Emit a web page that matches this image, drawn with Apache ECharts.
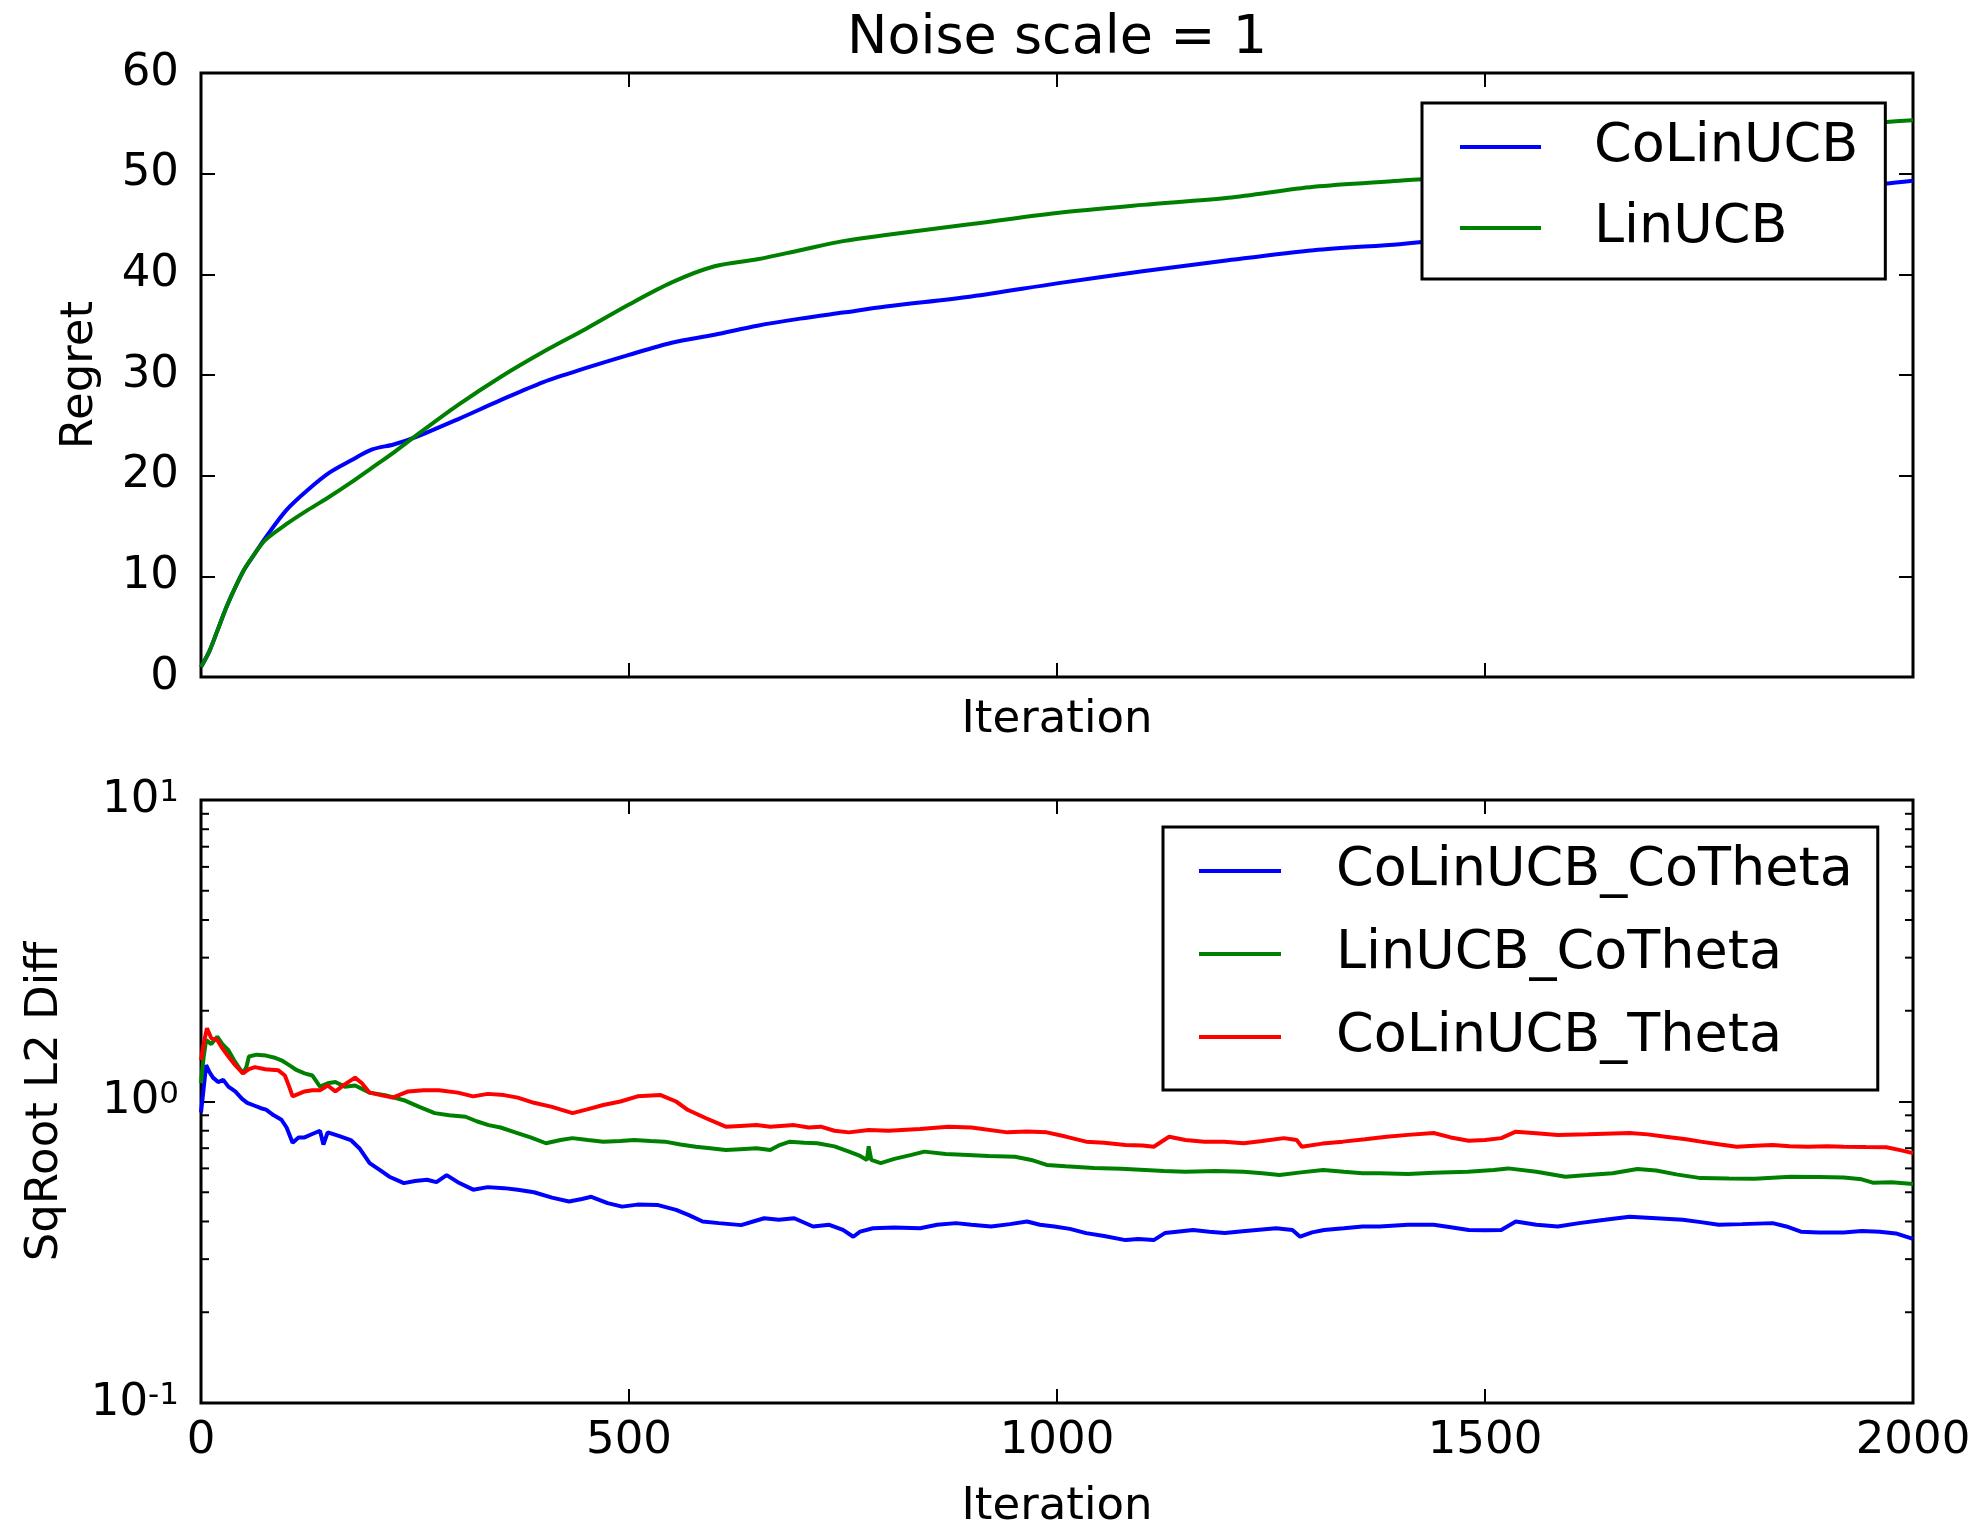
<!DOCTYPE html>
<html>
<head>
<meta charset="utf-8">
<script src="https://cdn.jsdelivr.net/npm/echarts@6/dist/echarts.min.js"></script>
<style>
html,body{margin:0;padding:0;background:#fff;}
#chart{width:1973px;height:1529px;}
</style>
</head>
<body>
<div id="chart"></div>
<script>
// ---------- Top panel: Regret ----------
const topIter = [0,10,20,30,40,50,60,75,100,125,150,175,200,225,250,300,350,400,450,500,550,600,650,700,750,800,900,1000,1100,1200,1300,1400,1450,1500,1600,1700,1800,1900,1967,2000];
const regretCoLinUCB = [1.0,2.6,4.8,7.0,8.9,10.6,11.9,13.8,16.6,18.6,20.3,21.5,22.6,23.1,23.8,25.6,27.5,29.3,30.7,32.0,33.2,34.0,34.9,35.6,36.2,36.8,37.8,39.1,40.3,41.4,42.4,43.0,43.4,43.9,45.0,46.1,47.1,48.2,49.0,49.3];
const regretLinUCB   = [1.0,2.6,4.8,7.0,8.9,10.6,11.9,13.6,15.2,16.6,17.9,19.3,20.8,22.3,23.9,27.0,29.8,32.3,34.6,37.0,39.2,40.8,41.5,42.4,43.3,43.9,45.0,46.1,46.9,47.6,48.7,49.3,49.6,50.1,51.2,52.3,53.3,54.4,55.1,55.3];

// ---------- Bottom panel: SqRoot L2 Diff ----------
const iterCoLinCo = [0,3,6,10,14,20,26,32,40,48,54,62,70,76,85,94,100,107,114,121,130,139,143,148,160,175,185,197,210,220,237,250,264,275,287,300,318,335,354,370,389,410,430,445,456,475,492,510,533,555,570,586,605,631,645,658,675,693,715,734,750,762,770,785,810,840,860,882,900,923,945,965,980,997,1015,1034,1055,1080,1095,1113,1126,1140,1159,1178,1196,1220,1256,1275,1284,1298,1312,1335,1357,1377,1410,1440,1460,1481,1500,1519,1536,1560,1585,1610,1640,1669,1700,1731,1752,1773,1800,1836,1852,1869,1890,1919,1940,1961,1980,2000];
const diffCoLinCo = [0.92,1.1,1.32,1.25,1.2,1.16,1.18,1.12,1.08,1.02,0.99,0.97,0.95,0.94,0.9,0.87,0.82,0.73,0.76,0.76,0.78,0.8,0.72,0.79,0.77,0.745,0.7,0.625,0.59,0.563,0.536,0.545,0.55,0.54,0.57,0.54,0.51,0.52,0.516,0.51,0.5,0.48,0.466,0.475,0.483,0.46,0.448,0.455,0.454,0.437,0.42,0.4,0.395,0.389,0.4,0.41,0.405,0.41,0.385,0.39,0.375,0.356,0.37,0.38,0.382,0.38,0.39,0.395,0.39,0.385,0.392,0.4,0.39,0.385,0.378,0.366,0.358,0.347,0.35,0.347,0.366,0.37,0.375,0.37,0.366,0.372,0.38,0.375,0.356,0.368,0.375,0.38,0.385,0.385,0.39,0.39,0.383,0.375,0.374,0.375,0.4,0.39,0.385,0.395,0.405,0.415,0.41,0.405,0.398,0.39,0.392,0.395,0.385,0.37,0.368,0.368,0.372,0.37,0.365,0.35];

const iterLinCo = [0,3,6,12,19,25,32,40,49,53,56,65,76,85,94,103,112,121,130,139,148,157,168,180,197,215,237,255,273,290,309,322,336,350,367,385,403,420,434,452,470,490,506,525,542,560,578,595,613,630,649,665,675,688,705,720,740,757,770,778,780,783,794,810,830,845,870,896,920,951,970,988,1010,1043,1075,1103,1125,1150,1185,1218,1240,1260,1285,1311,1335,1357,1377,1410,1440,1480,1510,1527,1560,1594,1620,1649,1678,1700,1725,1752,1785,1815,1857,1890,1919,1940,1953,1975,2000];
const diffLinCo = [1.15,1.4,1.6,1.55,1.64,1.55,1.48,1.35,1.24,1.3,1.41,1.43,1.42,1.4,1.37,1.32,1.27,1.24,1.22,1.12,1.15,1.16,1.12,1.13,1.07,1.05,1.01,0.96,0.915,0.9,0.89,0.86,0.835,0.82,0.79,0.76,0.727,0.745,0.756,0.745,0.736,0.74,0.745,0.74,0.736,0.72,0.708,0.7,0.69,0.695,0.7,0.69,0.715,0.736,0.73,0.727,0.71,0.682,0.66,0.64,0.71,0.64,0.625,0.645,0.665,0.682,0.67,0.665,0.66,0.656,0.64,0.616,0.61,0.602,0.598,0.593,0.588,0.585,0.588,0.585,0.578,0.57,0.582,0.593,0.585,0.578,0.578,0.575,0.58,0.585,0.593,0.6,0.585,0.563,0.57,0.578,0.597,0.59,0.572,0.557,0.555,0.554,0.563,0.562,0.56,0.552,0.538,0.54,0.533];

const iterCoLinTh = [0,3,7,12,19,25,32,40,49,56,63,75,90,98,103,107,114,121,130,139,148,157,168,180,188,197,210,224,242,260,278,300,318,335,354,370,389,410,434,450,470,490,510,537,555,569,590,613,630,649,665,693,710,724,740,757,780,803,840,873,900,942,965,988,1010,1034,1055,1080,1100,1113,1131,1150,1172,1195,1218,1240,1265,1280,1286,1310,1334,1360,1385,1410,1440,1460,1481,1500,1519,1536,1560,1585,1620,1669,1690,1711,1735,1752,1775,1794,1815,1836,1856,1877,1900,1919,1945,1969,1985,2000];
const diffCoLinTh = [1.37,1.55,1.75,1.62,1.6,1.5,1.41,1.32,1.24,1.28,1.3,1.28,1.27,1.22,1.12,1.04,1.06,1.08,1.09,1.09,1.13,1.08,1.14,1.2,1.15,1.07,1.05,1.03,1.08,1.09,1.09,1.07,1.04,1.06,1.05,1.03,0.99,0.96,0.915,0.94,0.974,1.0,1.04,1.05,1.0,0.937,0.88,0.825,0.83,0.835,0.825,0.835,0.82,0.825,0.8,0.79,0.805,0.8,0.81,0.825,0.82,0.79,0.795,0.79,0.765,0.736,0.73,0.717,0.715,0.708,0.764,0.745,0.736,0.735,0.727,0.74,0.756,0.745,0.708,0.725,0.736,0.75,0.764,0.775,0.786,0.76,0.741,0.745,0.756,0.794,0.785,0.774,0.778,0.786,0.778,0.764,0.75,0.736,0.72,0.708,0.713,0.717,0.71,0.708,0.71,0.708,0.706,0.705,0.69,0.674];

const logMinorTicks = [0.2,0.3,0.4,0.5,0.6,0.7,0.8,0.9,2,3,4,5,6,7,8,9];
const xTicks = [0,500,1000,1500,2000];

const FONT = 'DejaVu Sans';
const BLUE = '#0000ff', GREEN = '#008000', RED = '#ff0000';
const LW = 4;
const zip = (xs, ys) => xs.map((x, i) => [x, ys[i]]);

const G1 = {left: 201, right: 60, top: 73, height: 604};
const G2 = {left: 201, right: 60, top: 800, height: 603};

const tickStyle = {show: true, inside: true, length: 14, lineStyle: {color: '#000', width: 2}};
const labelStyle = {color: '#000', fontFamily: FONT, fontSize: 45};

function xAx(grid, pos, showLabel, name, nameGap) {
  return {
    type: 'value', gridIndex: grid, position: pos, min: 0, max: 2000, interval: 500,
    axisLine: {show: false, onZero: false},
    axisTick: tickStyle,
    splitLine: {show: false},
    axisLabel: Object.assign({show: showLabel, margin: 16, formatter: v => String(v)}, labelStyle),
    name: name || '', nameLocation: 'middle', nameGap: nameGap || 0,
    nameTextStyle: {color: '#000', fontFamily: FONT, fontSize: 45}
  };
}

const gridBase = {show: true, borderColor: '#000', borderWidth: 3, backgroundColor: 'transparent', containLabel: false, outerBoundsMode: 'none'};

const option = {
  animation: false,
  backgroundColor: '#fff',
  title: {
    text: 'Noise scale = 1', left: 1057, top: 12, padding: 0, textAlign: 'center',
    textStyle: {color: '#000', fontFamily: FONT, fontSize: 54, fontWeight: 'normal'}
  },
  grid: [
    Object.assign({}, gridBase, G1),
    Object.assign({}, gridBase, G2)
  ],
  xAxis: [
    xAx(0, 'bottom', false, 'Iteration', 21),
    xAx(0, 'top', false),
    xAx(1, 'bottom', true, 'Iteration', 82),
    xAx(1, 'top', false)
  ],
  yAxis: [
    {
      type: 'value', gridIndex: 0, position: 'left', min: 0, max: 60, interval: 10,
      axisLine: {show: false, onZero: false}, axisTick: tickStyle, splitLine: {show: false},
      axisLabel: Object.assign({margin: 22}, labelStyle),
      name: 'Regret', nameLocation: 'middle', nameGap: 98,
      nameTextStyle: {color: '#000', fontFamily: FONT, fontSize: 45}
    },
    {
      type: 'value', gridIndex: 0, position: 'right', min: 0, max: 60, interval: 10,
      axisLine: {show: false, onZero: false}, axisTick: tickStyle, splitLine: {show: false},
      axisLabel: {show: false}
    },
    {
      type: 'log', logBase: 10, gridIndex: 1, position: 'left', min: 0.1, max: 10,
      axisLine: {show: false, onZero: false}, axisTick: tickStyle, splitLine: {show: false},
      axisLabel: {
        margin: 22,
        formatter: function (v) {
          const e = Math.round(Math.log10(v));
          return '{b|10}{s|' + (e < 0 ? '-' + (-e) : e) + '}';
        },
        rich: {
          b: {color: '#000', fontFamily: FONT, fontSize: 45, lineHeight: 45},
          s: {color: '#000', fontFamily: FONT, fontSize: 31, lineHeight: 12, verticalAlign: 'top'}
        }
      },
      name: 'SqRoot L2 Diff', nameLocation: 'middle', nameGap: 133,
      nameTextStyle: {color: '#000', fontFamily: FONT, fontSize: 45}
    },
    {
      type: 'log', logBase: 10, gridIndex: 1, position: 'right', min: 0.1, max: 10,
      axisLine: {show: false, onZero: false}, axisTick: tickStyle, splitLine: {show: false},
      axisLabel: {show: false}
    }
  ],
  legend: [
    {
      data: ['CoLinUCB', 'LinUCB'], orient: 'vertical', left: 1422, top: 103,
      padding: [14, 27, 21, 38], itemGap: 21, itemWidth: 81, itemHeight: 4, icon: 'rect',
      backgroundColor: '#fff', borderColor: '#000', borderWidth: 3, borderRadius: 0,
      selectedMode: false,
      textStyle: {color: '#000', fontFamily: FONT, fontSize: 54, lineHeight: 60, padding: [0, 0, 0, 48]}
    },
    {
      data: ['CoLinUCB_CoTheta', 'LinUCB_CoTheta', 'CoLinUCB_Theta'], orient: 'vertical', left: 1163, top: 827,
      padding: [14, 25, 23, 36], itemGap: 23, itemWidth: 82, itemHeight: 4, icon: 'rect',
      backgroundColor: '#fff', borderColor: '#000', borderWidth: 3, borderRadius: 0,
      selectedMode: false,
      textStyle: {color: '#000', fontFamily: FONT, fontSize: 54, lineHeight: 60, padding: [0, 0, 0, 50]}
    }
  ],
  series: [
    {name: 'CoLinUCB', type: 'line', xAxisIndex: 0, yAxisIndex: 0, data: zip(topIter, regretCoLinUCB),
     showSymbol: false, symbol: 'none', smooth: 0.3,
     lineStyle: {color: BLUE, width: LW}, itemStyle: {color: BLUE}},
    {name: 'LinUCB', type: 'line', xAxisIndex: 0, yAxisIndex: 0, data: zip(topIter, regretLinUCB),
     showSymbol: false, symbol: 'none', smooth: 0.3,
     lineStyle: {color: GREEN, width: LW}, itemStyle: {color: GREEN}},
    {name: 'CoLinUCB_CoTheta', type: 'line', xAxisIndex: 2, yAxisIndex: 2, data: zip(iterCoLinCo, diffCoLinCo),
     showSymbol: false, symbol: 'none', lineStyle: {color: BLUE, width: LW}, itemStyle: {color: BLUE}},
    {name: 'LinUCB_CoTheta', type: 'line', xAxisIndex: 2, yAxisIndex: 2, data: zip(iterLinCo, diffLinCo),
     showSymbol: false, symbol: 'none', lineStyle: {color: GREEN, width: LW}, itemStyle: {color: GREEN}},
    {name: 'CoLinUCB_Theta', type: 'line', xAxisIndex: 2, yAxisIndex: 2, data: zip(iterCoLinTh, diffCoLinTh),
     showSymbol: false, symbol: 'none', lineStyle: {color: RED, width: LW}, itemStyle: {color: RED}},
    {
      name: 'minorTicks', type: 'custom', xAxisIndex: 2, yAxisIndex: 2, silent: true, z: 5,
      data: logMinorTicks.map(v => [0, v]),
      renderItem: function (params, api) {
        const y = api.coord([0, api.value(1)])[1];
        const cs = params.coordSys;
        return {
          type: 'group',
          children: [
            {type: 'line', shape: {x1: cs.x, y1: y, x2: cs.x + 8, y2: y}, style: {stroke: '#000', lineWidth: 2}},
            {type: 'line', shape: {x1: cs.x + cs.width - 8, y1: y, x2: cs.x + cs.width, y2: y}, style: {stroke: '#000', lineWidth: 2}}
          ]
        };
      }
    }
  ]
};

const chart = echarts.init(document.getElementById('chart'), null, {renderer: 'canvas'});
chart.setOption(option);
</script>
</body>
</html>
